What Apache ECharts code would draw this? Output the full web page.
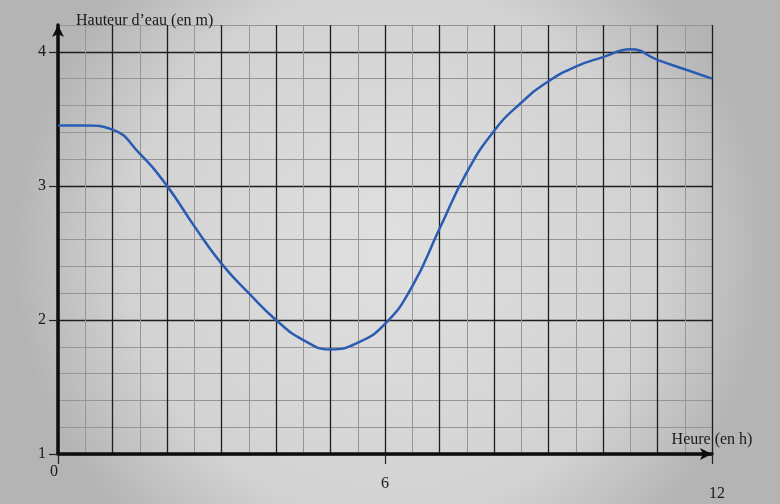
<!DOCTYPE html>
<html>
<head>
<meta charset="utf-8">
<script src="https://cdn.jsdelivr.net/npm/echarts@6/dist/echarts.min.js"></script>
<style>
html,body{margin:0;padding:0;background:#c4c4c4;}
#c{width:780px;height:504px;}
</style>
</head>
<body>
<div id="c"></div>
<script>
// Data
var hours   = [0, 0.5, 1, 1.5, 2, 2.5, 3, 3.5, 4, 4.5, 5, 5.5, 6, 6.5, 7, 7.5, 8, 8.5, 9, 9.5, 10, 10.5, 11, 11.5, 12];
var heights = [3.45, 3.45, 3.42, 3.24, 3.0, 2.7, 2.42, 2.2, 2.0, 1.85, 1.78, 1.83, 1.97, 2.25, 2.68, 3.1, 3.41, 3.62, 3.78, 3.89, 3.96, 4.02, 3.94, 3.87, 3.8];
var xTickLabels = [0, 6, 12];
var yTickLabels = [1, 2, 3, 4];
var xTitle = 'Heure (en h)';
var yTitle = "Hauteur d\u2019eau (en m)";

var points = hours.map(function (h, i) { return [h, heights[i]]; });

var serif = '"Liberation Serif", "DejaVu Serif", serif';
var major = '#1e1e1e';
var minor = '#959595';
var txt = '#1a1a1a';

var chart = echarts.init(document.getElementById('c'));
chart.setOption({
  backgroundColor: {
    type: 'radial', x: 0.5, y: 0.5, r: 0.75,
    colorStops: [{offset: 0, color: '#e0e0e0'}, {offset: 0.7, color: '#d2d2d2'}, {offset: 1, color: '#b4b4b4'}]
  },
  animation: false,
  grid: {left: 58, right: 68, top: 25, bottom: 50},
  xAxis: [
    {
      type: 'value', min: 0, max: 12, interval: 0.5, position: 'bottom',
      axisLine: {show: false}, axisTick: {show: false}, axisLabel: {show: false},
      splitLine: {show: true, lineStyle: {color: minor, width: 1}}
    },
    {
      type: 'value', min: 0, max: 12, interval: 1, position: 'bottom',
      axisLine: {show: false}, axisTick: {show: false}, axisLabel: {show: false},
      splitLine: {show: true, lineStyle: {color: major, width: 1.3}}
    },
    {
      type: 'value', min: 0, max: 12, interval: 1, position: 'bottom',
      name: xTitle, nameLocation: 'end', nameGap: 0,
      nameTextStyle: {fontFamily: serif, fontSize: 16, color: txt, align: 'center', verticalAlign: 'bottom', padding: [0, 0, 6, 0]},
      axisLine: {show: true, lineStyle: {color: '#0d0d0d', width: 3.5}, symbol: ['none', 'arrow'], symbolSize: [9, 12]},
      axisTick: {show: true, customValues: xTickLabels, length: 10, lineStyle: {color: '#222', width: 1.2}},
      axisLabel: {
        show: true, customValues: xTickLabels, margin: 10,
        fontFamily: serif, fontSize: 16, color: txt,
        formatter: function (v) {
          if (v === 0) return '{a|' + v + '}';
          if (v === 12) return '{c|' + v + '}';
          return '{b|' + v + '}';
        },
        rich: {
          a: {fontFamily: serif, fontSize: 16, color: txt, padding: [0, 8, 0, 0]},
          b: {fontFamily: serif, fontSize: 16, color: txt, padding: [12, 0, 0, 0]},
          c: {fontFamily: serif, fontSize: 16, color: txt, padding: [22, 0, 0, 10]}
        }
      },
      splitLine: {show: false}
    }
  ],
  yAxis: [
    {
      type: 'value', min: 1, max: 4.2, interval: 0.2, position: 'left',
      axisLine: {show: false}, axisTick: {show: false}, axisLabel: {show: false},
      splitLine: {show: true, lineStyle: {color: minor, width: 1}}
    },
    {
      type: 'value', min: 1, max: 4.2, interval: 1, position: 'left',
      name: yTitle, nameLocation: 'end', nameGap: 2,
      nameTextStyle: {fontFamily: serif, fontSize: 16, color: txt, align: 'left', verticalAlign: 'bottom', padding: [0, 0, -6, 18]},
      axisLine: {show: true, lineStyle: {color: '#0d0d0d', width: 3.5}, symbol: ['none', 'arrow'], symbolSize: [9, 12]},
      axisTick: {show: true, customValues: yTickLabels, length: 9, lineStyle: {color: '#222', width: 1.2}},
      axisLabel: {show: true, customValues: yTickLabels, margin: 12, fontFamily: serif, fontSize: 16, color: txt},
      splitLine: {show: true, lineStyle: {color: major, width: 1.3}}
    }
  ],
  series: [{
    type: 'line',
    xAxisIndex: 0, yAxisIndex: 0,
    data: points,
    smooth: 0.5,
    showSymbol: false,
    lineStyle: {color: '#2a5cb3', width: 2.5},
    z: 5
  }]
});
</script>
</body>
</html>
